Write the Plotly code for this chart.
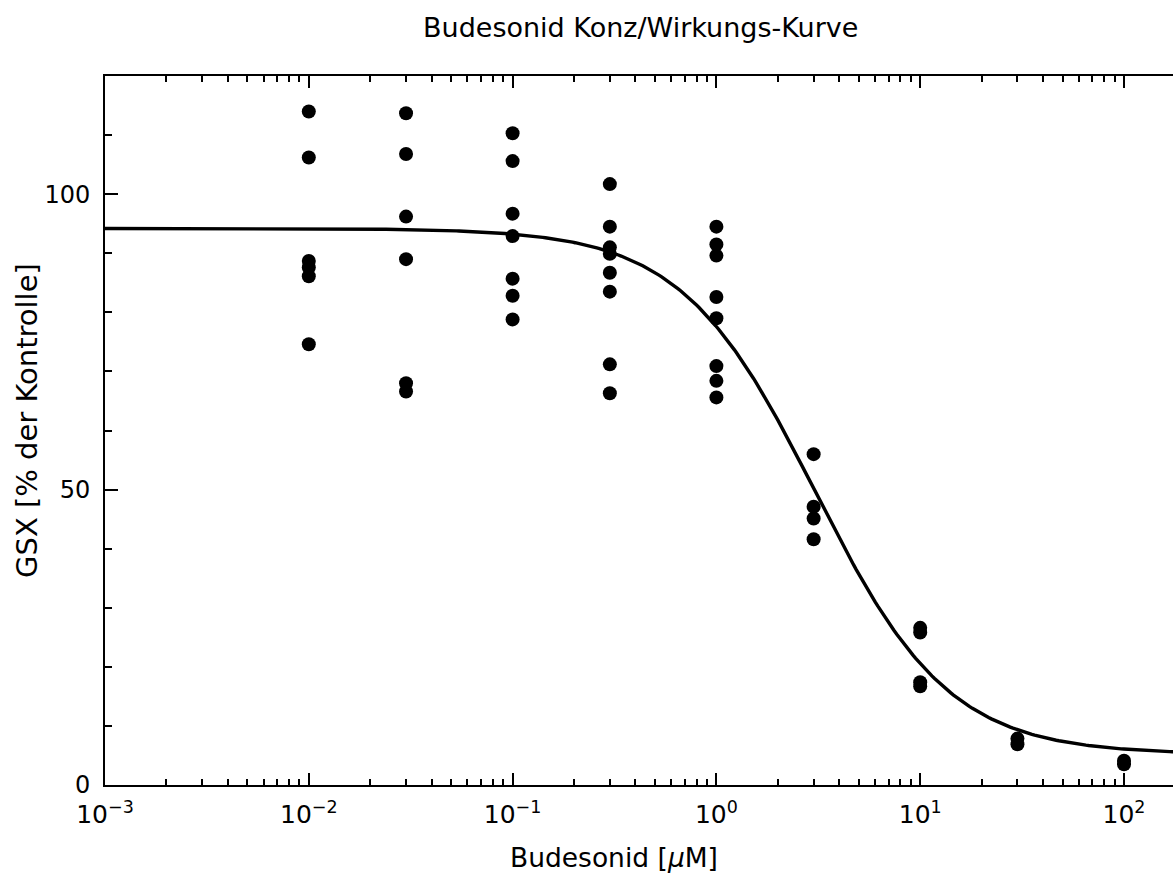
import numpy as np
import plotly.graph_objects as go

# ---- data ----
dose = [0.01] * 6 + [0.03] * 6 + [0.1] * 7 + [0.3] * 8 + [1.0] * 8 + [3.0] * 4 + [10.0] * 4 + [30.0] * 2 + [100.0] * 2
response = [
    114.0, 106.2, 88.7, 87.6, 86.1, 74.6,            # 0.01
    113.7, 106.8, 96.2, 89.0, 68.0, 66.6,            # 0.03
    110.3, 105.6, 96.7, 92.9, 85.7, 82.8, 78.8,      # 0.1
    101.7, 94.5, 91.0, 89.9, 86.7, 83.5, 71.2, 66.3, # 0.3
    94.5, 91.5, 89.6, 82.6, 79.0, 70.9, 68.4, 65.6,  # 1
    56.0, 47.1, 45.1, 41.6,                          # 3
    26.6, 25.8, 17.4, 16.7,                          # 10
    7.85, 6.9,                                       # 30
    4.1, 3.5,                                        # 100
]

# fitted 4-parameter logistic curve parameters
fit_top = 94.2
fit_bottom = 5.2
fit_ic50 = 3.05
fit_hill = 1.32

x_tick_vals = [1e-3, 1e-2, 1e-1, 1e0, 1e1, 1e2]
x_tick_text = ["10<sup>\u22123</sup>", "10<sup>\u22122</sup>", "10<sup>\u22121</sup>",
               "10<sup>0</sup>", "10<sup>1</sup>", "10<sup>2</sup>"]
y_tick_vals = [0, 50, 100]
y_tick_text = ["0", "50", "100"]

title_text = "Budesonid Konz/Wirkungs-Kurve"
x_title = "Budesonid [<i>\u03bc</i>M]"
y_title = "GSX [% der Kontrolle]"

# ---- figure ----
FONT = "DejaVu Sans"
W, H = 1173, 876
L, R, T, B = 105, 0, 76, 91
x_lo = -3.0
x_hi = -3.0 + (W - L - R) / 203.8

curve_x = np.logspace(x_lo, x_hi + 0.05, 400)
curve_y = fit_bottom + (fit_top - fit_bottom) / (1 + (curve_x / fit_ic50) ** fit_hill)

minor_x = [m * 10.0 ** e for e in range(-3, 3) for m in range(2, 10)]

fig = go.Figure()
fig.add_trace(go.Scatter(x=curve_x, y=curve_y, mode="lines",
                         line=dict(color="black", width=3.4), showlegend=False,
                         hoverinfo="skip"))
fig.add_trace(go.Scatter(x=dose, y=response, mode="markers",
                         marker=dict(color="black", size=14, line=dict(width=0)),
                         showlegend=False))

fig.update_layout(
    width=W, height=H,
    margin=dict(l=L, r=R, t=T, b=B, pad=0),
    paper_bgcolor="white", plot_bgcolor="white",
    font=dict(family=FONT, color="black", size=24),
    showlegend=False,
)

fig.update_xaxes(
    type="log", range=[x_lo, x_hi],
    showgrid=False, zeroline=False,
    showline=True, linecolor="black", linewidth=2, mirror="ticks",
    ticks="inside", ticklen=12, tickwidth=2, tickcolor="black",
    tickmode="array", tickvals=x_tick_vals, ticktext=x_tick_text,
    tickfont=dict(family=FONT, size=25, color="black"),
    ticklabelstandoff=6,
    minor=dict(ticks="inside", ticklen=6, tickwidth=2, tickcolor="black",
               tickmode="array", tickvals=minor_x, showgrid=False),
)
fig.update_yaxes(
    range=[0, 120],
    showgrid=False, zeroline=False,
    showline=True, linecolor="black", linewidth=2, mirror=False,
    ticks="inside", ticklen=13, tickwidth=2, tickcolor="black",
    tickmode="array", tickvals=y_tick_vals, ticktext=y_tick_text,
    tickfont=dict(family=FONT, size=24, color="black"),
    ticklabelstandoff=8,
    minor=dict(ticks="inside", ticklen=7, tickwidth=2, tickcolor="black",
               dtick=10, tick0=0, showgrid=False),
)

plot_h = H - T - B
plot_w = W - L - R

def py(px_y):
    return (H - B - px_y) / plot_h

def px(px_x):
    return (px_x - L) / plot_w

fig.add_annotation(text=title_text, xref="paper", yref="paper",
                   x=px(640), y=py(27), xanchor="center", yanchor="middle",
                   showarrow=False, font=dict(family=FONT, size=27, color="black"))
fig.add_annotation(text=x_title, xref="paper", yref="paper",
                   x=px(614), y=py(857), xanchor="center", yanchor="middle",
                   showarrow=False, font=dict(family=FONT, size=26.5, color="black"))
fig.add_annotation(text=y_title, xref="paper", yref="paper",
                   x=px(27), y=py(421), xanchor="center", yanchor="middle",
                   textangle=-90,
                   showarrow=False, font=dict(family=FONT, size=29, color="black"))

fig.write_html("out.html")
